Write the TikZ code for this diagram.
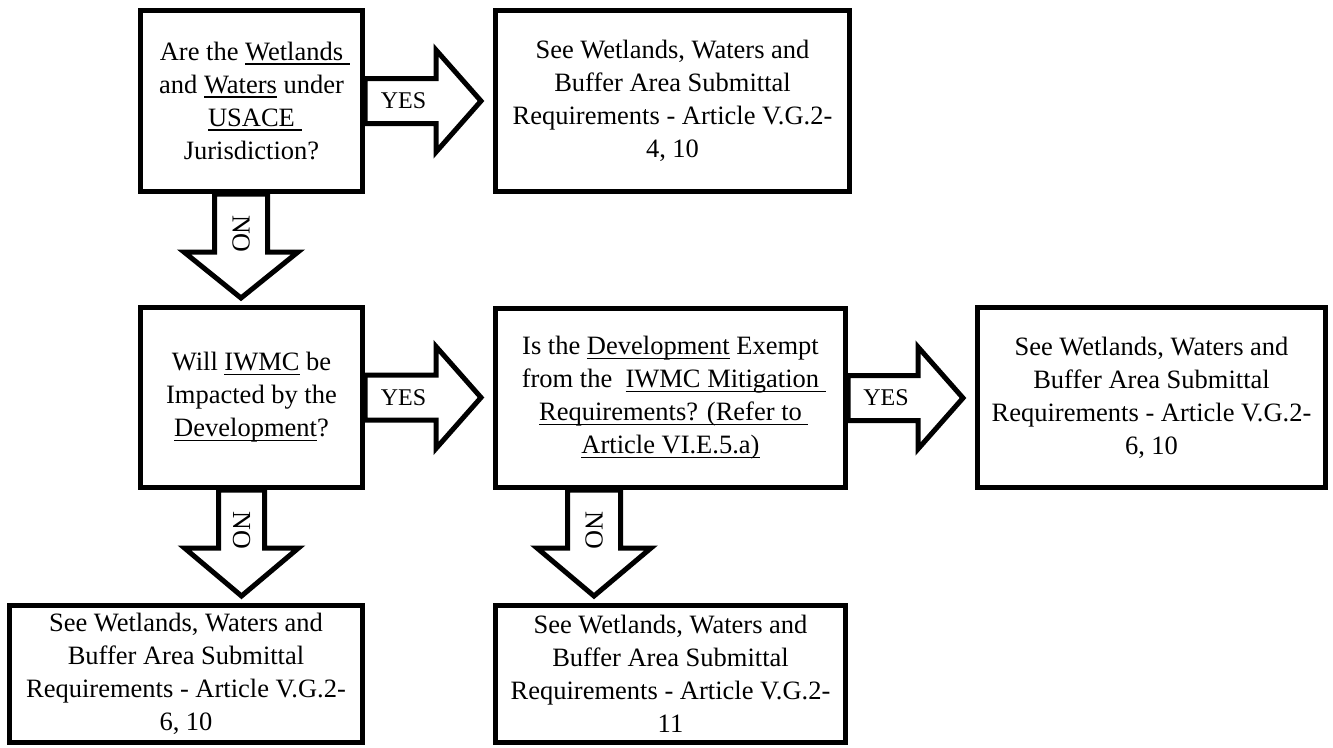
\documentclass[tikz,border=0pt]{standalone}
\usepackage{fontspec}
\setmainfont{Liberation Serif}
\usetikzlibrary{calc}
\newlength\ulw
\newcommand\ulx[1]{\settowidth\ulw{#1}\rlap{\rule[-4.5pt]{\ulw}{1.6pt}}#1}
\newcommand\yesarrow[3]{%
\draw[barrow] let \p1=(#1.east), \p2=(#2.west) in
 (\x1,\y1+22.5pt) -- (\x2-57pt,\y1+22.5pt) -- (\x2-57pt,\y1+51pt) -- (\x2-12pt,\y1)
 -- (\x2-57pt,\y1-51pt) -- (\x2-57pt,\y1-22.5pt) -- (\x1,\y1-22.5pt) -- cycle
 ({(\x1+\x2-57pt)/2+3pt},\y1) node[yeslbl] (#3) {YES};
}
\newcommand\noarrow[5]{%
\draw[barrow] let \p1=($(#1.south)+(#3,0)$), \p2=(#2.north) in
 (\x1-#4pt,\y1) -- (\x1-#4pt,\y1-58pt) -- (\x1-57pt,\y1-58pt) -- (\x1,\y2+7pt)
 -- (\x1+57pt,\y1-58pt) -- (\x1+#4pt,\y1-58pt) -- (\x1+#4pt,\y1) -- cycle
 (\x1,\y1-40pt) node[nolbl] (#5) {NO};
}
\begin{document}
\begin{tikzpicture}[x=1pt,y=-1pt,
  box/.style={draw, line width=5pt, fill=white, align=center, inner sep=0pt,
    font=\fontsize{26.5}{33}\selectfont},
  barrow/.style={draw, line width=5pt, fill=white, line join=miter},
  yeslbl/.style={inner sep=0pt, font=\fontsize{24}{28}\selectfont},
  nolbl/.style={inner sep=0pt, rotate=-90, font=\fontsize{26}{30}\selectfont}]
\useasboundingbox (0,0) rectangle (1333,747);
\fill[white] (0,0) rectangle (1333,747);

\node[box, minimum width=222pt, minimum height=181pt] (q1) at (251.5,101)
  {Are the \ulx{Wetlands\ }\\and \ulx{Waters} under\\\ulx{USACE\ }\\Jurisdiction?};
\node[box, minimum width=354pt, minimum height=181pt] (r1) at (672.5,101)
  {See Wetlands, Waters and\\Buffer Area Submittal\\Requirements - Article V.G.2-\\4, 10};
\node[box, minimum width=222pt, minimum height=180pt] (q2) at (251.5,397.5)
  {Will \ulx{IWMC} be\\Impacted by the\\\ulx{Development}?};
\node[box, minimum width=350pt, minimum height=179pt] (q3) at (670.5,398)
  {Is the \ulx{Development} Exempt\\from the~ \ulx{IWMC Mitigation\ }\\\ulx{Requirements? (Refer to\ }\\\ulx{Article VI.E.5.a)}};
\node[box, minimum width=348pt, minimum height=180pt] (r2) at (1151.5,397.5)
  {See Wetlands, Waters and\\Buffer Area Submittal\\Requirements - Article V.G.2-\\6, 10};
\node[box, minimum width=353pt, minimum height=137pt] (r3) at (186,674)
  {See Wetlands, Waters and\\Buffer Area Submittal\\Requirements - Article V.G.2-\\6, 10};
\node[box, minimum width=350pt, minimum height=137pt] (r4) at (670.5,674)
  {See Wetlands, Waters and\\Buffer Area Submittal\\Requirements - Article V.G.2-\\11};

\yesarrow{q1}{r1}{yes1}
\yesarrow{q2}{q3}{yes2}
\yesarrow{q3}{r2}{yes3}
\noarrow{q1}{q2}{-10.5pt}{26.5}{no1}
\noarrow{q2}{r3}{-10pt}{23}{no2}
\noarrow{q3}{r4}{-76.5pt}{26.5}{no3}
\end{tikzpicture}
\end{document}
